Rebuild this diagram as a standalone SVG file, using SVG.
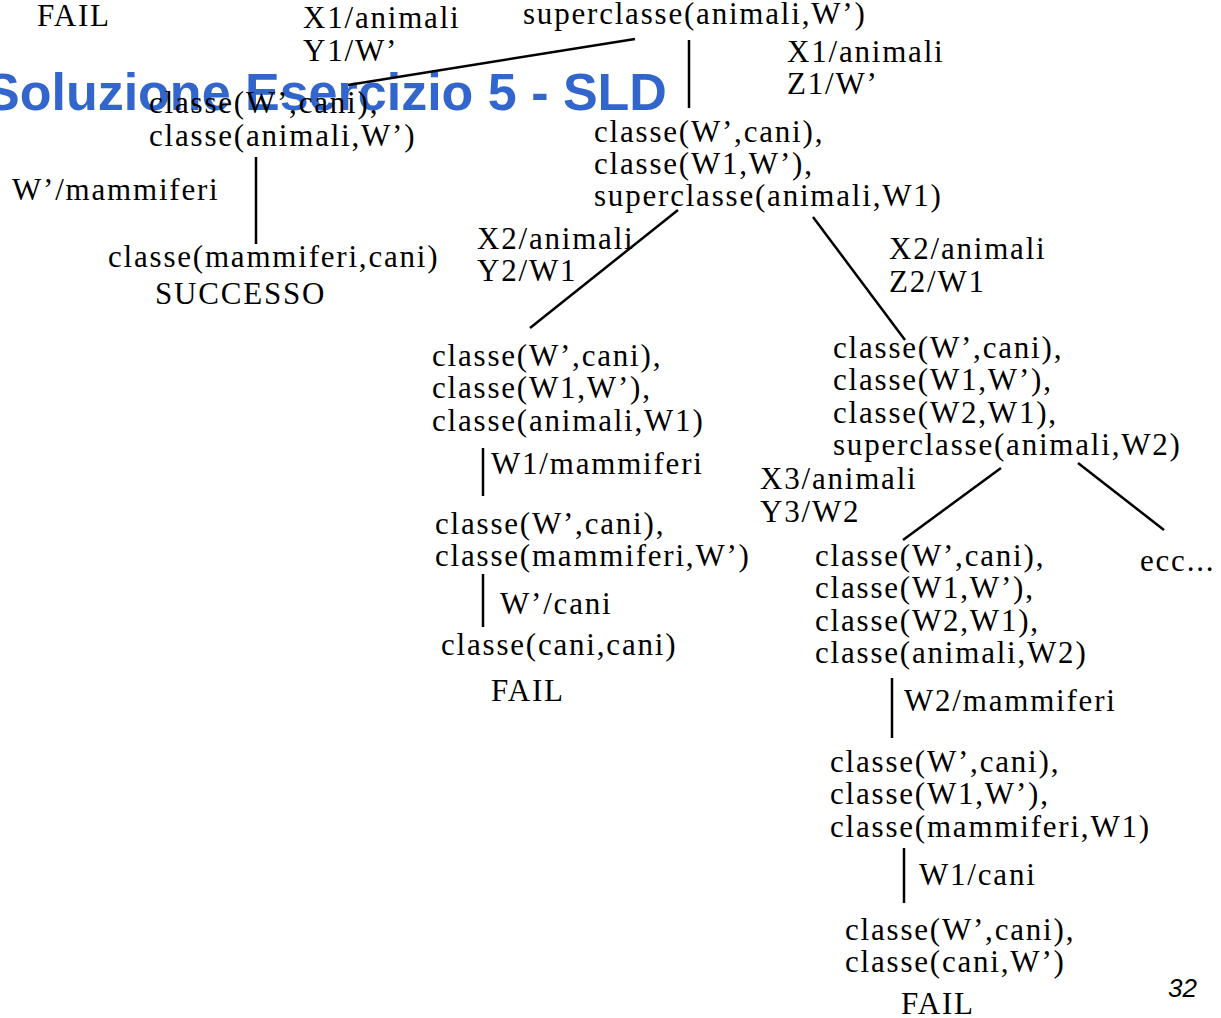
<svg xmlns="http://www.w3.org/2000/svg" width="1221" height="1018" viewBox="0 0 1221 1018">
<style>
.t{font-family:"Liberation Serif","Times New Roman",serif;font-size:31px;letter-spacing:1.8px;fill:#000}
.title{font-family:"Liberation Sans",Arial,sans-serif;font-size:52px;font-weight:bold;fill:#3366CC}
.pg{font-family:"Liberation Sans",Arial,sans-serif;font-size:26px;font-style:italic;fill:#000}
.c line{stroke:#000;stroke-width:2.5;stroke-linecap:butt}
</style>
<rect width="1221" height="1018" fill="#fff"/>
<text class="title" x="-15" y="110">Soluzione Esercizio 5 - SLD</text>
<g class="c" id="connectors">
<line x1="635" y1="39" x2="348" y2="85"/>
<line x1="689" y1="40" x2="689" y2="108"/>
<line x1="256" y1="157" x2="256" y2="244"/>
<line x1="678" y1="210" x2="530" y2="328"/>
<line x1="813" y1="217" x2="905" y2="340"/>
<line x1="483" y1="448" x2="483" y2="496"/>
<line x1="483" y1="574" x2="483" y2="627"/>
<line x1="1001" y1="468" x2="903" y2="540"/>
<line x1="1078" y1="463" x2="1164" y2="530"/>
<line x1="892" y1="678" x2="892" y2="738"/>
<line x1="904" y1="848" x2="904" y2="903"/>
</g>
<g id="fail-top"><text class="t" x="37" y="26">FAIL</text></g>
<g id="lbl-x1y1"><text class="t" x="303" y="28">X1/animali</text><text class="t" x="303" y="61">Y1/W’</text></g>
<g id="root"><text class="t" x="523" y="24">superclasse(animali,W’)</text></g>
<g id="lbl-x1z1"><text class="t" x="787" y="62">X1/animali</text><text class="t" x="787" y="94">Z1/W’</text></g>
<g id="n-left1"><text class="t" x="149" y="113">classe(W’,cani),</text><text class="t" x="149" y="146">classe(animali,W’)</text></g>
<g id="lbl-wm"><text class="t" x="12" y="200">W’/mammiferi</text></g>
<g id="n-success"><text class="t" x="108" y="267">classe(mammiferi,cani)</text><text class="t" x="155" y="304">SUCCESSO</text></g>
<g id="n-mid1"><text class="t" x="594" y="142">classe(W’,cani),</text><text class="t" x="594" y="174">classe(W1,W’),</text><text class="t" x="594" y="206">superclasse(animali,W1)</text></g>
<g id="lbl-x2y2"><text class="t" x="477" y="249">X2/animali</text><text class="t" x="477" y="281">Y2/W1</text></g>
<g id="lbl-x2z2"><text class="t" x="889" y="259">X2/animali</text><text class="t" x="889" y="292">Z2/W1</text></g>
<g id="n-a"><text class="t" x="432" y="366">classe(W’,cani),</text><text class="t" x="432" y="398">classe(W1,W’),</text><text class="t" x="432" y="431">classe(animali,W1)</text></g>
<g id="lbl-w1m"><text class="t" x="491" y="474">W1/mammiferi</text></g>
<g id="n-b"><text class="t" x="435" y="534">classe(W’,cani),</text><text class="t" x="435" y="566">classe(mammiferi,W’)</text></g>
<g id="lbl-wc"><text class="t" x="500" y="614">W’/cani</text></g>
<g id="n-c"><text class="t" x="441" y="655">classe(cani,cani)</text><text class="t" x="491" y="701">FAIL</text></g>
<g id="n-d"><text class="t" x="833" y="358">classe(W’,cani),</text><text class="t" x="833" y="390">classe(W1,W’),</text><text class="t" x="833" y="423">classe(W2,W1),</text><text class="t" x="833" y="455">superclasse(animali,W2)</text></g>
<g id="lbl-x3y3"><text class="t" x="760" y="489">X3/animali</text><text class="t" x="760" y="522">Y3/W2</text></g>
<g id="n-ecc"><text class="t" x="1140" y="571">ecc...</text></g>
<g id="n-e"><text class="t" x="815" y="566">classe(W’,cani),</text><text class="t" x="815" y="598">classe(W1,W’),</text><text class="t" x="815" y="631">classe(W2,W1),</text><text class="t" x="815" y="663">classe(animali,W2)</text></g>
<g id="lbl-w2m"><text class="t" x="904" y="711">W2/mammiferi</text></g>
<g id="n-f"><text class="t" x="830" y="772">classe(W’,cani),</text><text class="t" x="830" y="804">classe(W1,W’),</text><text class="t" x="830" y="837">classe(mammiferi,W1)</text></g>
<g id="lbl-w1c"><text class="t" x="919" y="885">W1/cani</text></g>
<g id="n-g"><text class="t" x="845" y="940">classe(W’,cani),</text><text class="t" x="845" y="972">classe(cani,W’)</text><text class="t" x="901" y="1014">FAIL</text></g>
<text class="pg" x="1168" y="997">32</text>
</svg>
